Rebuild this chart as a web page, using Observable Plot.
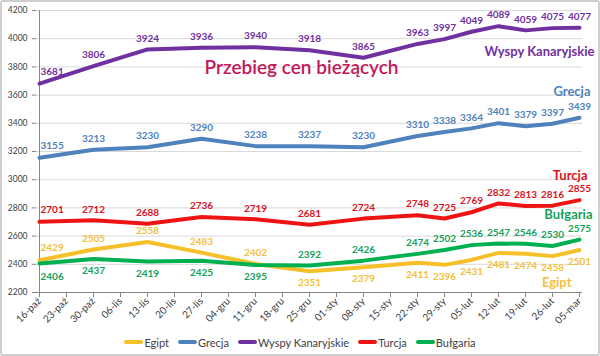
<!DOCTYPE html>
<html>
<head>
<meta charset="utf-8">
<script src="https://cdn.jsdelivr.net/npm/d3@7"></script>
<script src="https://cdn.jsdelivr.net/npm/@observablehq/plot@0.6"></script>
<style>
  html, body { margin: 0; padding: 0; background: #fff; }
  #wrap { position: relative; width: 600px; height: 356px; background: #fff; overflow: hidden; font-family: Lato, "DejaVu Sans", sans-serif; }
  #border { position: absolute; left: 0; top: 0; width: 600px; height: 356px; box-sizing: border-box; border: 2px solid #cfcfcf; border-radius: 3px; pointer-events: none; }
  #legend { position: absolute; left: 0; top: 331px; width: 600px; height: 22px; display: flex; justify-content: center; align-items: center; gap: 5px; font-size: 11px; color: #404040; padding-left: 4px; box-sizing: border-box; }
  .item { display: flex; align-items: center; margin-right: 4px; }
  .swatch { width: 19px; height: 4px; border-radius: 2px; margin-right: 1px; }
</style>
</head>
<body>
<div id="wrap"><div id="chart"></div><div id="legend"></div><div id="border"></div></div>
<script>
const dates = ["16-paź","23-paź","30-paź","06-lis","13-lis","20-lis","27-lis","04-gru","11-gru","18-gru","25-gru","01-sty","08-sty","15-sty","22-sty","29-sty","05-lut","12-lut","19-lut","26-lut","05-mar"];
const pointDates = ["16-paź","30-paź","13-lis","27-lis","11-gru","25-gru","08-sty","22-sty","29-sty","05-lut","12-lut","19-lut","26-lut","05-mar"];
const seriesNames = ["Egipt", "Grecja", "Wyspy Kanaryjskie", "Turcja", "Bułgaria"];
const egipt = [2429, 2505, 2558, 2483, 2402, 2351, 2379, 2411, 2396, 2431, 2481, 2474, 2458, 2501];
const grecja = [3155, 3213, 3230, 3290, 3238, 3237, 3230, 3310, 3338, 3364, 3401, 3379, 3397, 3439];
const wyspy = [3681, 3806, 3924, 3936, 3940, 3918, 3865, 3963, 3997, 4049, 4089, 4059, 4075, 4077];
const turcja = [2701, 2712, 2688, 2736, 2719, 2681, 2724, 2748, 2725, 2769, 2832, 2813, 2816, 2855];
const bulgaria = [2406, 2437, 2419, 2425, 2395, 2392, 2426, 2474, 2502, 2536, 2547, 2546, 2530, 2575];
const yTicks = [2200, 2400, 2600, 2800, 3000, 3200, 3400, 3600, 3800, 4000, 4200];
const title = "Przebieg cen bieżących";

const lineColors = ["#f6c02a", "#4f81bd", "#7030a0", "#ee1414", "#00b050"];
const labelColors = ["#f2c03c", "#4f81bd", "#7030a0", "#d8141e", "#17a05a"];
const valuesBySeries = [egipt, grecja, wyspy, turcja, bulgaria];

const rows = [];
seriesNames.forEach((s, k) => valuesBySeries[k].forEach((v, i) => rows.push({series: s, date: pointDates[i], value: v, i})));

const isBelow = d => (d.series === "Egipt" && d.i >= 5) || (d.series === "Bułgaria" && d.i < 5);
const colorOf = d => labelColors[seriesNames.indexOf(d.series)];

function labels(filterFn, dy, anchor, dx) {
  return Plot.text(rows.filter(filterFn), {
    x: "date", y: "value", text: d => String(d.value), fill: colorOf,
    dy, dx, textAnchor: anchor, fontSize: 10, fontWeight: 700
  });
}

const nameOffsets = {
  "Wyspy Kanaryjskie": [15, 24],
  "Grecja": [11, -26],
  "Turcja": [8, -24],
  "Bułgaria": [13, -25],
  "Egipt": [-8, 33]
};
const nameMarks = seriesNames.map((s, k) => {
  const last = rows.filter(d => d.series === s).slice(-1);
  return Plot.text(last, {x: "date", y: "value", text: () => s, fill: labelColors[k],
    textAnchor: "end", dx: nameOffsets[s][0], dy: nameOffsets[s][1], fontSize: 13, fontWeight: 700});
});

const chart = Plot.plot({
  width: 600, height: 330,
  marginLeft: 36, marginRight: 18, marginTop: 10, marginBottom: 38,
  style: {fontFamily: "Lato, 'DejaVu Sans', sans-serif", background: "transparent", overflow: "visible"},
  x: {type: "point", domain: dates, padding: 0},
  y: {domain: [2200, 4200]},
  color: {domain: seriesNames, range: lineColors},
  marks: [
    Plot.gridY(yTicks, {stroke: "#d9d9d9", strokeOpacity: 1}),
    Plot.ruleY([2200], {stroke: "#868686"}),
    Plot.ruleX([dates[0]], {stroke: "#868686"}),
    Plot.axisY(yTicks, {tickFormat: d3.format("d"), tickSize: 4, tickPadding: 5, fontSize: 8.5, fill: "#404040", stroke: "#868686", label: null}),
    Plot.axisX({tickRotate: -45, tickSize: 5, tickPadding: 2, fontSize: 10, fill: "#404040", stroke: "#868686", label: null}),
    Plot.line(rows, {x: "date", y: "value", z: "series", stroke: "series", strokeWidth: 4, strokeLinejoin: "round", strokeLinecap: "round"}),
    labels(d => d.i > 0 && !isBelow(d), -11, "middle", 0),
    labels(d => d.i > 0 && isBelow(d), 12, "middle", 0),
    labels(d => d.i === 0 && !isBelow(d), -12, "start", 1),
    labels(d => d.i === 0 && isBelow(d), 13, "start", 1),
    ...nameMarks,
    Plot.text([title], {frameAnchor: "top", dx: -8, dy: 50, fontSize: 19, fontWeight: 600, fill: "#c2185b"})
  ]
});
document.getElementById("chart").appendChild(chart);

const legend = document.getElementById("legend");
seriesNames.forEach((s, k) => {
  const it = document.createElement("div");
  it.className = "item";
  const sw = document.createElement("div");
  sw.className = "swatch";
  sw.style.background = lineColors[k];
  const tx = document.createElement("span");
  tx.textContent = s;
  it.appendChild(sw); it.appendChild(tx);
  legend.appendChild(it);
});
</script>
</body>
</html>
